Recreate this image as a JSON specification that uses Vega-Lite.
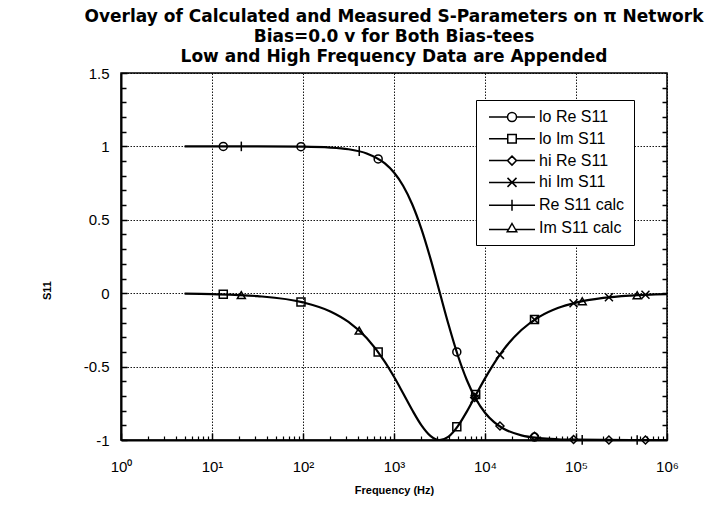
{
  "$schema": "https://vega.github.io/schema/vega-lite/v6.json",
  "width": 546,
  "height": 367,
  "autosize": {"type": "none"},
  "padding": {"left": 121, "top": 73, "right": 39, "bottom": 68},
  "background": "white",
  "title": {
    "text": [
      "Overlay of Calculated and Measured S-Parameters on π Network",
      "Bias=0.0 v for Both Bias-tees",
      "Low and High Frequency Data are Appended"
    ],
    "font": "DejaVu Sans",
    "fontSize": 17,
    "fontWeight": "bold",
    "lineHeight": 20,
    "anchor": "middle",
    "frame": "group",
    "offset": 0,
    "color": "black"
  },
  "datasets": {
    "calc": [
      {"f": 5, "v": 1.0, "series": "Re S11 calc"},
      {"f": 10, "v": 1.0, "series": "Re S11 calc"},
      {"f": 31.6, "v": 0.9998, "series": "Re S11 calc"},
      {"f": 100, "v": 0.998, "series": "Re S11 calc"},
      {"f": 200, "v": 0.9922, "series": "Re S11 calc"},
      {"f": 316, "v": 0.9806, "series": "Re S11 calc"},
      {"f": 501, "v": 0.9521, "series": "Re S11 calc"},
      {"f": 794, "v": 0.8838, "series": "Re S11 calc"},
      {"f": 1000, "v": 0.822, "series": "Re S11 calc"},
      {"f": 1259, "v": 0.7318, "series": "Re S11 calc"},
      {"f": 1585, "v": 0.6058, "series": "Re S11 calc"},
      {"f": 1995, "v": 0.4398, "series": "Re S11 calc"},
      {"f": 2512, "v": 0.2372, "series": "Re S11 calc"},
      {"f": 3162, "v": 0.0115, "series": "Re S11 calc"},
      {"f": 3981, "v": -0.2153, "series": "Re S11 calc"},
      {"f": 5012, "v": -0.4211, "series": "Re S11 calc"},
      {"f": 6310, "v": -0.591, "series": "Re S11 calc"},
      {"f": 7943, "v": -0.7209, "series": "Re S11 calc"},
      {"f": 10000, "v": -0.8143, "series": "Re S11 calc"},
      {"f": 12589, "v": -0.8787, "series": "Re S11 calc"},
      {"f": 15849, "v": -0.9217, "series": "Re S11 calc"},
      {"f": 25119, "v": -0.9681, "series": "Re S11 calc"},
      {"f": 39811, "v": -0.9872, "series": "Re S11 calc"},
      {"f": 63096, "v": -0.9949, "series": "Re S11 calc"},
      {"f": 100000, "v": -0.998, "series": "Re S11 calc"},
      {"f": 199526, "v": -0.9995, "series": "Re S11 calc"},
      {"f": 398107, "v": -0.9999, "series": "Re S11 calc"},
      {"f": 1000000, "v": -1.0, "series": "Re S11 calc"},
      {"f": 5, "v": -0.0031, "series": "Im S11 calc"},
      {"f": 10, "v": -0.0063, "series": "Im S11 calc"},
      {"f": 31.6, "v": -0.0198, "series": "Im S11 calc"},
      {"f": 100, "v": -0.0624, "series": "Im S11 calc"},
      {"f": 200, "v": -0.1243, "series": "Im S11 calc"},
      {"f": 316, "v": -0.1958, "series": "Im S11 calc"},
      {"f": 501, "v": -0.3059, "series": "Im S11 calc"},
      {"f": 794, "v": -0.4678, "series": "Im S11 calc"},
      {"f": 1000, "v": -0.5696, "series": "Im S11 calc"},
      {"f": 1259, "v": -0.6815, "series": "Im S11 calc"},
      {"f": 1585, "v": -0.7956, "series": "Im S11 calc"},
      {"f": 1995, "v": -0.8981, "series": "Im S11 calc"},
      {"f": 2512, "v": -0.9715, "series": "Im S11 calc"},
      {"f": 3162, "v": -0.9999, "series": "Im S11 calc"},
      {"f": 3981, "v": -0.9765, "series": "Im S11 calc"},
      {"f": 5012, "v": -0.907, "series": "Im S11 calc"},
      {"f": 6310, "v": -0.8066, "series": "Im S11 calc"},
      {"f": 7943, "v": -0.693, "series": "Im S11 calc"},
      {"f": 10000, "v": -0.5804, "series": "Im S11 calc"},
      {"f": 12589, "v": -0.4774, "series": "Im S11 calc"},
      {"f": 15849, "v": -0.3879, "series": "Im S11 calc"},
      {"f": 25119, "v": -0.2506, "series": "Im S11 calc"},
      {"f": 39811, "v": -0.1597, "series": "Im S11 calc"},
      {"f": 63096, "v": -0.1011, "series": "Im S11 calc"},
      {"f": 100000, "v": -0.0639, "series": "Im S11 calc"},
      {"f": 199526, "v": -0.0321, "series": "Im S11 calc"},
      {"f": 398107, "v": -0.0161, "series": "Im S11 calc"},
      {"f": 1000000, "v": -0.0064, "series": "Im S11 calc"}
    ],
    "pts": [
      {"f": 13.3, "v": 1.0, "series": "lo Re S11"},
      {"f": 95, "v": 0.998, "series": "lo Re S11"},
      {"f": 670, "v": 0.915, "series": "lo Re S11"},
      {"f": 4900, "v": -0.4, "series": "lo Re S11"},
      {"f": 35000, "v": -0.98, "series": "lo Re S11"},
      {"f": 13.3, "v": -0.008, "series": "lo Im S11"},
      {"f": 95, "v": -0.06, "series": "lo Im S11"},
      {"f": 670, "v": -0.4, "series": "lo Im S11"},
      {"f": 4900, "v": -0.91, "series": "lo Im S11"},
      {"f": 7900, "v": -0.69, "series": "lo Im S11"},
      {"f": 35000, "v": -0.18, "series": "lo Im S11"},
      {"f": 7700, "v": -0.71, "series": "hi Re S11"},
      {"f": 14600, "v": -0.905, "series": "hi Re S11"},
      {"f": 35000, "v": -0.975, "series": "hi Re S11"},
      {"f": 94000, "v": -0.997, "series": "hi Re S11"},
      {"f": 230000, "v": -1.0, "series": "hi Re S11"},
      {"f": 580000, "v": -1.0, "series": "hi Re S11"},
      {"f": 7700, "v": -0.72, "series": "hi Im S11"},
      {"f": 14600, "v": -0.42, "series": "hi Im S11"},
      {"f": 35000, "v": -0.18, "series": "hi Im S11"},
      {"f": 94000, "v": -0.068, "series": "hi Im S11"},
      {"f": 230000, "v": -0.028, "series": "hi Im S11"},
      {"f": 580000, "v": -0.011, "series": "hi Im S11"},
      {"f": 21, "v": 1.0, "series": "Re S11 calc"},
      {"f": 415, "v": 0.967, "series": "Re S11 calc"},
      {"f": 117000, "v": -0.999, "series": "Re S11 calc"},
      {"f": 470000, "v": -1.0, "series": "Re S11 calc"},
      {"f": 21, "v": -0.013, "series": "Im S11 calc"},
      {"f": 415, "v": -0.255, "series": "Im S11 calc"},
      {"f": 117000, "v": -0.055, "series": "Im S11 calc"},
      {"f": 470000, "v": -0.014, "series": "Im S11 calc"}
    ]
  },
  "layer": [
    {
      "data": {"name": "calc"},
      "mark": {"type": "line", "color": "black", "strokeWidth": 2.2, "interpolate": "monotone"},
      "encoding": {
        "x": {
          "field": "f", "type": "quantitative",
          "scale": {"type": "log", "domain": [1, 1000000], "nice": false},
          "axis": {
            "orient": "bottom",
            "values": [1, 10, 100, 1000, 10000, 100000, 1000000],
            "grid": true, "gridColor": "black", "gridDash": [1.5, 1.5], "gridWidth": 1, "gridOpacity": 0.9,
            "tickSize": -7, "tickWidth": 1.5, "tickColor": "black",
            "domainColor": "black", "domainWidth": 2,
            "labelExpr": "'10' + ['⁰','¹','²','³','⁴','⁵','⁶'][round(log(datum.value) / LN10)]",
            "labelFont": "Liberation Sans", "labelFontSize": 15, "labelColor": "black",
            "labelPadding": 26, "labelFlush": false,
            "title": "Frequency (Hz)",
            "titleFont": "Liberation Sans", "titleFontSize": 11, "titleFontWeight": "bold", "titleColor": "black",
            "titleY": 44, "titleBaseline": "top"
          }
        },
        "y": {
          "field": "v", "type": "quantitative",
          "scale": {"domain": [-1, 1.5], "nice": false, "zero": false},
          "axis": {
            "orient": "left",
            "values": [-1, -0.5, 0, 0.5, 1, 1.5],
            "grid": true, "gridColor": "black", "gridDash": [1.5, 1.5], "gridWidth": 1, "gridOpacity": 0.9,
            "tickSize": -6, "tickWidth": 1.5, "tickColor": "black",
            "domainColor": "black", "domainWidth": 2,
            "labelExpr": "'' + datum.value",
            "labelFont": "Liberation Sans", "labelFontSize": 15, "labelColor": "black",
            "labelPadding": 18, "labelFlush": false,
            "title": "S11",
            "titleFont": "Liberation Sans", "titleFontSize": 11, "titleFontWeight": "bold", "titleColor": "black",
            "titleX": -69, "titleY": 217, "titleAngle": -90, "titleBaseline": "bottom", "titleAlign": "center"
          }
        },
        "detail": {"field": "series"}
      }
    },
    {
      "data": {"name": "pts"},
      "mark": {"type": "point", "filled": false, "color": "black", "strokeWidth": 1.5, "size": 64, "opacity": 1},
      "encoding": {
        "x": {
          "field": "f", "type": "quantitative",
          "axis": {
            "orient": "bottom",
            "values": [2, 3, 4, 5, 6, 7, 8, 9, 20, 30, 40, 50, 60, 70, 80, 90, 200, 300, 400, 500, 600, 700, 800, 900, 2000, 3000, 4000, 5000, 6000, 7000, 8000, 9000, 20000, 30000, 40000, 50000, 60000, 70000, 80000, 90000, 200000, 300000, 400000, 500000, 600000, 700000, 800000, 900000],
            "grid": false, "domain": false, "labels": false, "title": null,
            "tickSize": -4, "tickWidth": 1.2, "tickColor": "black"
          }
        },
        "y": {
          "field": "v", "type": "quantitative",
          "axis": {
            "orient": "left",
            "values": [-0.9, -0.8, -0.7, -0.6, -0.4, -0.3, -0.2, -0.1, 0.1, 0.2, 0.3, 0.4, 0.6, 0.7, 0.8, 0.9, 1.1, 1.2, 1.3, 1.4],
            "grid": false, "domain": false, "labels": false, "title": null,
            "tickSize": -5, "tickWidth": 1.5, "tickColor": "black"
          }
        },
        "shape": {
          "field": "series", "type": "nominal",
          "scale": {
            "domain": ["lo Re S11", "lo Im S11", "hi Re S11", "hi Im S11", "Re S11 calc", "Im S11 calc"],
            "range": ["circle", "square", "diamond", "M-1,-1L1,1M-1,1L1,-1", "M0,-1.2L0,1.2", "triangle-up"]
          },
          "legend": null
        }
      }
    },
    {
      "data": {"name": "pts"},
      "mark": {"type": "point", "filled": false, "color": "black", "opacity": 0},
      "encoding": {
        "x": {"field": "f", "type": "quantitative", "axis": null},
        "y": {
          "field": "v", "type": "quantitative",
          "axis": {
            "orient": "right",
            "values": [-0.9, -0.8, -0.7, -0.6, -0.5, -0.4, -0.3, -0.2, -0.1, 0, 0.1, 0.2, 0.3, 0.4, 0.5, 0.6, 0.7, 0.8, 0.9, 1, 1.1, 1.2, 1.3, 1.4],
            "grid": false, "domain": false, "labels": false, "title": null,
            "tickSize": -5, "tickWidth": 1.5, "tickColor": "black"
          }
        },
        "shape": {
          "field": "series", "type": "nominal",
          "scale": {
            "domain": ["lo Re S11", "lo Im S11", "hi Re S11", "hi Im S11", "Re S11 calc", "Im S11 calc"],
            "range": [
              "M-4.6,0L-0.9,0M0.9,0L4.6,0M0.9,0A0.9,0.9,0,1,1,-0.9,0A0.9,0.9,0,1,1,0.9,0",
              "M-4.6,0L-0.85,0M0.85,0L4.6,0M-0.85,-0.85L0.85,-0.85L0.85,0.85L-0.85,0.85Z",
              "M-4.6,0L-0.9,0M0.9,0L4.6,0M0,-0.9L0.9,0L0,0.9L-0.9,0Z",
              "M-4.6,0L4.6,0M-0.9,-0.9L0.9,0.9M-0.9,0.9L0.9,-0.9",
              "M-4.6,0L4.6,0M0,-1.1L0,1.1",
              "M-4.6,0.3L-0.75,0.3M0.75,0.3L4.6,0.3M0,-0.9L0.95,0.75L-0.95,0.75Z"
            ]
          },
          "legend": {
            "title": null,
            "orient": "none",
            "legendX": 355,
            "legendY": 27,
            "padding": 9,
            "fillColor": "white",
            "strokeColor": "black",
            "cornerRadius": 0,
            "symbolSize": 100,
            "symbolOffset": 19,
            "symbolOpacity": 1,
            "symbolStrokeColor": "black",
            "symbolFillColor": "transparent",
            "symbolStrokeWidth": 1.5,
            "labelOffset": 19,
            "labelFont": "Liberation Sans",
            "labelFontSize": 16,
            "labelColor": "black",
            "rowPadding": 5.8
          }
        }
      }
    }
  ],
  "resolve": {
    "axis": {"x": "independent", "y": "independent"},
    "scale": {"shape": "independent"}
  },
  "config": {
    "view": {"stroke": "black", "strokeWidth": 1.5},
    "font": "Liberation Sans"
  }
}
